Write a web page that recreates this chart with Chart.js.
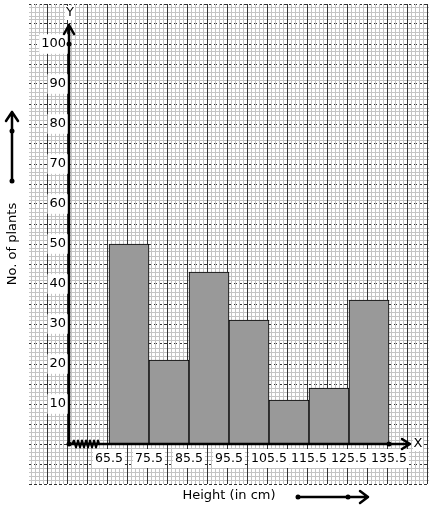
<!DOCTYPE html>
<html>
<head>
<meta charset="utf-8">
<script src="https://cdn.jsdelivr.net/npm/chart.js@4"></script>
<style>
  body { margin: 0; background: #fff; }
  canvas { display: block; }
</style>
</head>
<body>
<canvas id="chHist" width="434" height="510"></canvas>
<script>
// histogram data
var classBounds = [65.5, 75.5, 85.5, 95.5, 105.5, 115.5, 125.5, 135.5];
var plantCounts = [50, 21, 43, 31, 11, 14, 36];
var xTickLabels = [65.5, 75.5, 85.5, 95.5, 105.5, 115.5, 125.5, 135.5];
var yTickLabels = [10, 20, 30, 40, 50, 60, 70, 80, 90, 100];

// graph paper range
var xMin = 45.5, xMax = 145.5;
var yMin = -10, yMax = 110;
var minorGray = '#c4c4c4';
var majorDark = '#333333';

Chart.defaults.font.family = "'DejaVu Sans', sans-serif";
Chart.defaults.color = '#000';

var barData = plantCounts.map(function (c, i) {
  return { x: (classBounds[i] + classBounds[i + 1]) / 2, y: c };
});

function tickVal(c) { return c && c.tick ? c.tick.value : NaN; }
function isMajorX(v) { return Math.abs(((v - xMin) % 5)) < 1e-6; }
function isMajorY(v) { return Math.abs(v % 5) < 1e-6; }
function stepTicks(lo, hi) {
  return function (scale) {
    var t = [];
    for (var v = lo; v <= hi + 1e-6; v += 1) t.push({ value: v });
    scale.ticks = t;
  };
}
function listTicks(list) {
  return function (scale) {
    scale.ticks = list.map(function (v) { return { value: v }; });
  };
}

// axes, arrows, kink and captions
var paperExtras = {
  id: 'paperExtras',
  afterDatasetsDraw: function (chart) {
    var ctx = chart.ctx;
    var xs = chart.scales.x, ys = chart.scales.y;
    var ox = xs.getPixelForValue(55.5), oy = ys.getPixelForValue(0);
    var yTop = ys.getPixelForValue(105) + 1;
    var xEnd = xs.getPixelForValue(140.5) + 1;
    var kinkEnd = xs.getPixelForValue(classBounds[0]) - 10;

    ctx.save();
    ctx.strokeStyle = '#000';
    ctx.fillStyle = '#000';
    ctx.lineCap = 'round';
    ctx.lineJoin = 'round';

    // y axis
    ctx.lineWidth = 2.5;
    ctx.beginPath();
    ctx.moveTo(ox, oy);
    ctx.lineTo(ox, yTop);
    ctx.moveTo(ox - 5, yTop + 9);
    ctx.lineTo(ox, yTop);
    ctx.lineTo(ox + 5, yTop + 9);
    ctx.stroke();

    // x axis
    ctx.beginPath();
    ctx.moveTo(ox, oy);
    ctx.lineTo(xEnd, oy);
    ctx.moveTo(xEnd - 8, oy - 5);
    ctx.lineTo(xEnd, oy);
    ctx.lineTo(xEnd - 8, oy + 5);
    ctx.stroke();

    // kink
    ctx.lineWidth = 2;
    ctx.beginPath();
    ctx.moveTo(ox + 3, oy);
    var kx = ox + 4, n = 0;
    while (kx < kinkEnd) {
      ctx.lineTo(kx + 1, n % 2 ? oy + 3.5 : oy - 3.5);
      kx += 2;
      n++;
    }
    ctx.lineTo(kinkEnd, oy);
    ctx.stroke();

    // dots
    [[ox, oy], [ox, ys.getPixelForValue(100)], [xs.getPixelForValue(classBounds[classBounds.length - 1]), oy]].forEach(function (p) {
      ctx.beginPath();
      ctx.arc(p[0], p[1], 2.5, 0, Math.PI * 2);
      ctx.fill();
    });

    // axis letters
    ctx.font = "13px 'DejaVu Sans'";
    ctx.textAlign = 'center';
    ctx.textBaseline = 'middle';
    ctx.fillStyle = '#fff';
    ctx.fillRect(ox - 4, yTop - 19, 10, 14);
    ctx.fillRect(xEnd + 3, oy - 7, 10, 14);
    ctx.fillStyle = '#000';
    ctx.fillText('Y', ox + 1, yTop - 12);
    ctx.fillText('X', xEnd + 8, oy);

    // axis titles
    ctx.fillText('Height (in cm)', 229, 496);
    ctx.save();
    ctx.translate(13, 244);
    ctx.rotate(-Math.PI / 2);
    ctx.fillText('No. of plants', 0, 0);
    ctx.restore();

    // direction arrows
    ctx.lineWidth = 2.5;
    ctx.beginPath();
    ctx.moveTo(298, 497);
    ctx.lineTo(368, 497);
    ctx.moveTo(360, 491);
    ctx.lineTo(368, 497);
    ctx.lineTo(360, 503);
    ctx.moveTo(12, 181);
    ctx.lineTo(12, 112);
    ctx.moveTo(6, 121);
    ctx.lineTo(12, 112);
    ctx.lineTo(18, 121);
    ctx.stroke();
    [[298, 497], [348, 497], [12, 181], [12, 131]].forEach(function (p) {
      ctx.beginPath();
      ctx.arc(p[0], p[1], 2.5, 0, Math.PI * 2);
      ctx.fill();
    });
    ctx.restore();
  }
};

var chHist = document.getElementById('chHist');
new Chart(chHist, {
  type: 'bar',
  data: {
    datasets: [{
      data: barData,
      backgroundColor: '#999999',
      borderColor: '#000',
      borderWidth: 1,
      barPercentage: 1,
      categoryPercentage: 1
    }]
  },
  options: {
    responsive: false,
    animation: false,
    devicePixelRatio: 1,
    layout: { padding: { left: 29, top: 4, right: 5, bottom: 26 } },
    plugins: { legend: { display: false }, tooltip: { enabled: false } },
    scales: {
      // data axes: labels only
      x: {
        type: 'linear',
        offset: false,
        position: { y: 0 },
        min: xMin,
        max: xMax,
        afterBuildTicks: listTicks(xTickLabels),
        ticks: {
          autoSkip: false,
          maxRotation: 0,
          minRotation: 0,
          padding: 7,
          font: { size: 12.5 },
          callback: function (v) { return v.toFixed(1); },
          showLabelBackdrop: true,
          backdropColor: '#fff',
          backdropPadding: 2
        },
        grid: { display: false, drawTicks: false, offset: false },
        border: { display: false }
      },
      y: {
        type: 'linear',
        position: { x: 54.75 },
        min: yMin,
        max: yMax,
        afterBuildTicks: listTicks(yTickLabels),
        ticks: {
          autoSkip: false,
          padding: -8,
          font: { size: 13 },
          showLabelBackdrop: true,
          backdropColor: '#fff',
          backdropPadding: 2
        },
        grid: { display: false, drawTicks: false },
        border: { display: false }
      },
      // graph paper
      xg: {
        axis: 'x',
        type: 'linear',
        offset: false,
        position: { y: 0 },
        min: xMin,
        max: xMax,
        afterBuildTicks: stepTicks(xMin, xMax),
        ticks: { display: false, autoSkip: false },
        grid: {
          drawTicks: false,
          z: -1,
          lineWidth: 1,
          color: function (c) { return isMajorX(tickVal(c)) ? majorDark : minorGray; }
        },
        border: { display: false }
      },
      yg: {
        axis: 'y',
        type: 'linear',
        position: { x: 55.5 },
        min: yMin,
        max: yMax,
        afterBuildTicks: stepTicks(yMin, yMax),
        ticks: { display: false, autoSkip: false },
        grid: {
          drawTicks: false,
          z: -2,
          lineWidth: 1,
          color: function (c) { return isMajorY(tickVal(c)) ? majorDark : minorGray; }
        },
        border: {
          display: false,
          dash: function (c) { return isMajorY(tickVal(c)) ? [3, 2] : []; }
        }
      }
    }
  },
  plugins: [paperExtras]
});
</script>
</body>
</html>
